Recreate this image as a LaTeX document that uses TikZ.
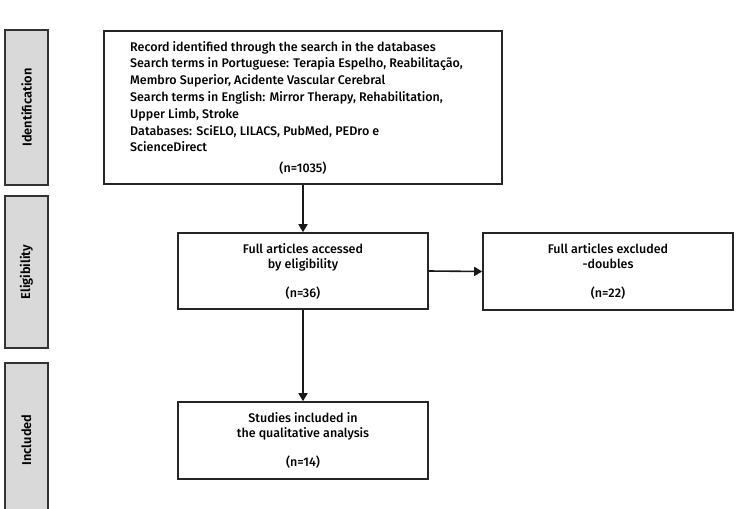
\documentclass[tikz,border=0pt]{standalone}
\usepackage{fontspec}
\setmainfont{Fira Sans Medium}[BoldFont=Fira Sans SemiBold]
\usetikzlibrary{arrows.meta}
\tikzset{
  box/.style={draw=black!85, line width=1.6pt, fill=white, inner sep=0pt, align=center},
  side/.style={draw=black!80, line width=1.4pt, fill=black!15, minimum width=43pt, inner sep=0pt},
  sidelabel/.style={rotate=90, font=\fontsize{12.8}{14}\selectfont\bfseries},
  arr/.style={line width=1.6pt, draw=black!90, -{Triangle[length=8pt,width=9pt]}},
  txt/.style={font=\fontsize{12.5}{15}\selectfont},
}
\begin{document}
\begin{tikzpicture}[x=1pt,y=-1pt]
\useasboundingbox (0,0) rectangle (743,508);
% stage boxes
\node[side, minimum height=155pt] (sid) at (26.5,107.5) {};
\node[sidelabel] at (sid.center) {Identification};
\node[side, minimum height=152pt] (sel) at (26.5,272) {};
\node[sidelabel] at (sel.center) {Eligibility};
\node[side, minimum height=154pt] (sin) at (26.5,440) {};
\node[sidelabel] at (sin.center) {Included};
% flow boxes
\node[box, minimum width=398pt, minimum height=153pt] (rec) at (303,107.5) {};
\node[anchor=north west, inner sep=0pt, align=left, font=\fontsize{12.5}{16.8}\selectfont] (rect) at (130,41)
 {Record identified through the search in the databases\\
  Search terms in Portuguese: Terapia Espelho, Reabilitação,\\
  Membro Superior, Acidente Vascular Cerebral\\
  Search terms in English: Mirror Therapy, Rehabilitation,\\
  Upper Limb, Stroke\\
  Databases: SciELO, LILACS, PubMed, PEDro e\\
  ScienceDirect};
\node[txt, inner sep=0pt] (recn) at (303,168) {(n=1035)};
\node[box, txt, minimum width=250pt, minimum height=76pt] (elig) at (303,271)
 {Full articles accessed\\by eligibility\\[14pt](n=36)};
\node[box, txt, minimum width=250pt, minimum height=77pt] (excl) at (608,271.5)
 {Full articles excluded\\-doubles\\[14pt](n=22)};
\node[box, txt, minimum width=250pt, minimum height=77pt] (incl) at (303,440.5)
 {Studies included in\\the qualitative analysis\\[14pt](n=14)};
% connectors
\draw[arr] (rec.south -| elig.north) -- (elig.north);
\draw[arr] (elig.east) -- (excl.west);
\draw[arr] (elig.south) -- (incl.north);
\end{tikzpicture}
\end{document}
